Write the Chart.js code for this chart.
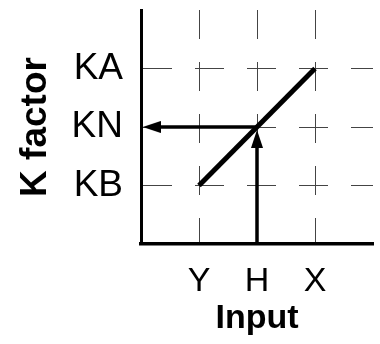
<!DOCTYPE html>
<html>
<head>
<meta charset="utf-8">
<script src="https://cdn.jsdelivr.net/npm/chart.js@4"></script>
<style>
  html, body { margin: 0; padding: 0; background: #fff; }
  #wrap { width: 380px; height: 344px; }
</style>
</head>
<body>
<div id="wrap"><canvas id="c" width="380" height="344"></canvas></div>
<script>
// ---- data ----
const xTickLabels = ['', 'Y', 'H', 'X', ''];        // indexed by x value 0..4
const yTickLabels = ['', 'KB', 'KN', 'KA', ''];     // indexed by y value 0..4
const xTitle = 'Input';
const yTitle = 'K factor';

const responseX = [1, 3];          // Y .. X
const responseY = [1, 3];          // KB .. KA

const upShaftX = [2, 2];           // from H up to curve
const upShaftY = [0, 1.7];
const upHeadX = [2];
const upHeadY = [1.95];

const leftShaftX = [2, 0.3];       // from curve left to axis at KN
const leftShaftY = [2, 2];
const leftHeadX = [0.03];
const leftHeadY = [2];

const gridValues = [1, 2, 3];

function pts(xs, ys) { return xs.map((x, i) => ({ x: x, y: ys[i] })); }

// arrowhead image: tip at the canvas centre, pointing up
function makeHead() {
  const c = document.createElement('canvas');
  c.width = 12; c.height = 36;
  const g = c.getContext('2d');
  g.fillStyle = '#000';
  g.beginPath();
  g.moveTo(6, 18);
  g.lineTo(12, 36);
  g.lineTo(0, 36);
  g.closePath();
  g.fill();
  return c;
}
const head = makeHead();

const gridColor = ctx => gridValues.includes(ctx.tick && ctx.tick.value) ? '#444' : 'rgba(0,0,0,0)';

new Chart(document.getElementById('c'), {
  type: 'scatter',
  data: {
    datasets: [
      { data: pts(responseX, responseY), showLine: true, borderColor: '#000', borderWidth: 5, pointRadius: 0, borderCapStyle: 'butt' },
      { data: pts(upShaftX, upShaftY), showLine: true, borderColor: '#000', borderWidth: 3.5, pointRadius: 0 },
      { data: pts(upHeadX, upHeadY), showLine: false, pointStyle: head, pointRadius: 6, pointRotation: 0 },
      { data: pts(leftShaftX, leftShaftY), showLine: true, borderColor: '#000', borderWidth: 3.5, pointRadius: 0 },
      { data: pts(leftHeadX, leftHeadY), showLine: false, pointStyle: head, pointRadius: 6, pointRotation: 270 }
    ]
  },
  options: {
    responsive: false,
    animation: false,
    events: [],
    layout: { padding: { top: 10, right: 6, left: 0, bottom: 0 } },
    plugins: { legend: { display: false }, tooltip: { enabled: false } },
    scales: {
      x: {
        type: 'linear', min: 0, max: 4,
        afterFit: s => { s.height = 100; s.paddingLeft = 0; s.paddingRight = 0; },
        ticks: {
          stepSize: 1, autoSkip: false, maxRotation: 0, padding: 17, color: '#000',
          font: { family: 'Liberation Sans', size: 34 },
          callback: v => xTickLabels[v] || ''
        },
        grid: { color: gridColor, lineWidth: 1, drawTicks: false },
        border: { display: true, color: '#000', width: 3.5, dash: [29, 23] },
        title: {
          display: true, text: xTitle, color: '#000',
          font: { family: 'Liberation Sans', size: 34, weight: 'bold' },
          padding: { top: 0, bottom: 5 }
        }
      },
      y: {
        type: 'linear', min: 0, max: 4,
        afterFit: s => { s.width = 141; s.paddingTop = 0; s.paddingBottom = 0; },
        ticks: {
          stepSize: 1, autoSkip: false, padding: 18, color: '#000',
          font: { family: 'Liberation Sans', size: 37 },
          callback: v => yTickLabels[v] || ''
        },
        grid: { color: gridColor, lineWidth: 1, drawTicks: false },
        border: { display: true, color: '#000', width: 3, dash: [29, 23] },
        title: {
          display: true, text: yTitle, color: '#000',
          font: { family: 'Liberation Sans', size: 37, weight: 'bold' },
          padding: { top: 14, bottom: 0 }
        }
      }
    }
  }
});
</script>
</body>
</html>
